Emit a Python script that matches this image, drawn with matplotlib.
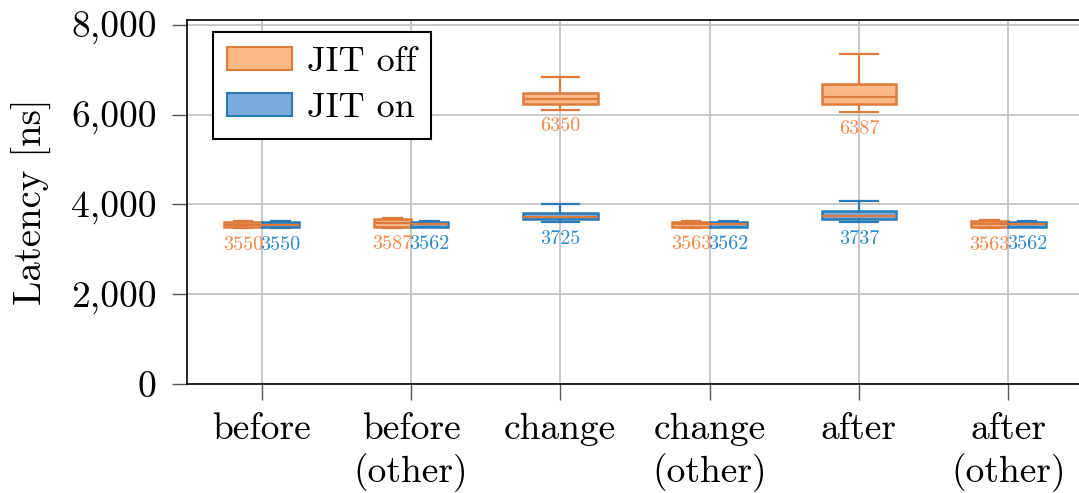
import matplotlib
matplotlib.use('Agg')
import matplotlib.pyplot as plt
from matplotlib.patches import Patch
from matplotlib.ticker import FuncFormatter

categories = ['before', 'before\n(other)', 'change', 'change\n(other)', 'after', 'after\n(other)']

# JIT off: median, q1, q3, whisker low, whisker high
off_med = [3550, 3587, 6350, 3563, 6387, 3563]
off_q1 = [3490, 3500, 6237, 3500, 6237, 3495]
off_q3 = [3615, 3680, 6482, 3620, 6681, 3630]
off_lo = [3470, 3480, 6111, 3480, 6052, 3475]
off_hi = [3630, 3700, 6844, 3640, 7348, 3650]

# JIT on
on_med = [3550, 3562, 3725, 3562, 3737, 3562]
on_q1 = [3490, 3505, 3673, 3505, 3681, 3505]
on_q3 = [3615, 3615, 3815, 3615, 3844, 3615]
on_lo = [3470, 3490, 3607, 3490, 3607, 3490]
on_hi = [3630, 3630, 4000, 3630, 4067, 3630]

# boxes drawn side by side for these, overlapping otherwise
side = [True, True, False, True, False, True]

plt.rcParams['font.family'] = ['cmr10', 'DejaVu Serif']
plt.rcParams['axes.formatter.use_mathtext'] = True
plt.rcParams['mathtext.fontset'] = 'cm'

off_edge = '#de7b3b'
off_fill = '#fbb98a'
off_txt = '#f5894b'
on_edge = '#2a7ab8'
on_fill = '#7aabdd'
on_txt = '#2b89cc'

fig = plt.figure(figsize=(10.79, 4.93), dpi=100)
ax = fig.add_axes([187/1079, 1-384/493, 896/1079, 364/493])

def stats(i, med, q1, q3, lo, hi):
    return [{'med': med[i], 'q1': q1[i], 'q3': q3[i], 'whislo': lo[i], 'whishi': hi[i], 'fliers': []}]

for i in range(len(categories)):
    x = i + 1
    if side[i]:
        xo, xn, w = x - 0.125, x + 0.125, 0.25
    else:
        xo, xn, w = x, x, 0.5
    for s, pos, edge, fill, medc, txtc in [
            (stats(i, off_med, off_q1, off_q3, off_lo, off_hi), xo, off_edge, off_fill, off_edge, off_txt),
            (stats(i, on_med, on_q1, on_q3, on_lo, on_hi), xn, on_edge, on_fill, off_edge, on_txt)]:
        ax.bxp(s, positions=[pos], widths=w, patch_artist=True, showfliers=False,
               boxprops=dict(facecolor=fill, edgecolor=edge, lw=1.8),
               medianprops=dict(color=medc, lw=1.6),
               whiskerprops=dict(color=edge, lw=1.6),
               capprops=dict(color=edge, lw=1.6), capwidths=w/2, zorder=3)
        ax.annotate(str(s[0]['med']), (pos, s[0]['whislo']), xytext=(0, -5.5),
                    textcoords='offset points', ha='center', va='top',
                    fontsize=14.5, color=txtc, zorder=4)

ax.set_xlim(0.5, 6.5)
ax.set_ylim(0, 8110)
ax.set_xticks(range(1, 7))
ax.set_xticklabels(categories, fontsize=27, linespacing=1.25)
ax.set_yticks([0, 2000, 4000, 6000, 8000])
ax.yaxis.set_major_formatter(FuncFormatter(lambda v, p: '{:,}'.format(int(v))))
ax.tick_params(axis='y', labelsize=27, length=11, width=1, color='#555555', pad=11)
ax.tick_params(axis='x', length=11.5, width=1, color='#555555', pad=9)
ax.set_ylabel('Latency [ns]', fontsize=28, labelpad=14)
ax.grid(True, color='#c4c4c4', lw=1.3)
ax.set_axisbelow(True)
for sp in ax.spines.values():
    sp.set_linewidth(1.2)
    sp.set_color('black')

handles = [Patch(facecolor=off_fill, edgecolor=off_edge, lw=1.5, label='JIT off'),
           Patch(facecolor=on_fill, edgecolor=on_edge, lw=1.5, label='JIT on')]
leg = ax.legend(handles=handles, loc='upper left', bbox_to_anchor=(26/896, 1-12/364),
                fontsize=26, fancybox=False, framealpha=1, edgecolor='black',
                handlelength=1.8, handleheight=0.6, handletextpad=0.4,
                labelspacing=0.4, borderpad=0.4, borderaxespad=0)
leg.get_frame().set_linewidth(1.5)

fig.savefig('out.png', dpi=100)
